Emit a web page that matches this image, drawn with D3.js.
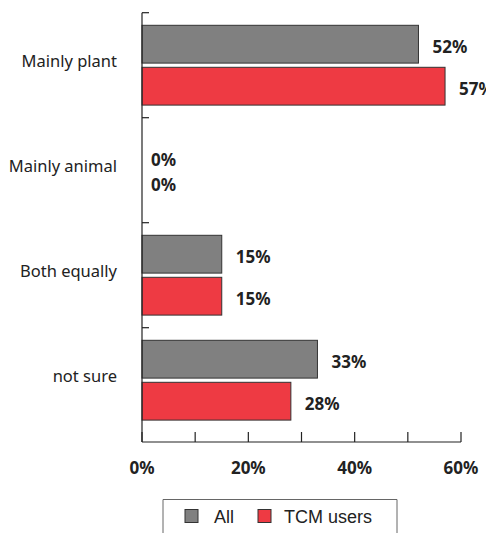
<!DOCTYPE html>
<html><head><meta charset="utf-8">
<script src="https://cdn.jsdelivr.net/npm/d3@7"></script>
<style>body{margin:0;background:#fff}svg{display:block}</style>
</head><body>
<svg id="c" width="486" height="533"></svg>
<script>
const categories = ["Mainly plant", "Mainly animal", "Both equally", "not sure"];
const seriesNames = ["All", "TCM users"];
const allValues = [52, 0, 15, 33];
const tcmValues = [57, 0, 15, 28];
const xTicks = [0, 20, 40, 60];
const colors = ["#808080", "#EE3A43"];

const svg = d3.select("#c");
const x = d3.scaleLinear().domain([0, 60]).range([142, 461]);
const y = d3.scaleBand().domain(categories).range([12.7, 432.7]).paddingInner(0).paddingOuter(0);
const y2 = d3.scaleBand().domain(seriesNames).range([0, y.bandwidth()]).paddingOuter(0.3).paddingInner(0.1);
const axisY = 442;
const font = "'Noto Sans', 'Open Sans', sans-serif";

const data = categories.map((c, i) => ({cat: c, vals: [allValues[i], tcmValues[i]]}));

// bars
const g = svg.append("g");
data.forEach(d => {
  d.vals.forEach((v, j) => {
    const yy = y(d.cat) + y2(seriesNames[j]);
    if (v > 0) {
      g.append("rect").attr("x", x(0)).attr("y", yy)
        .attr("width", x(v) - x(0)).attr("height", y2.bandwidth())
        .attr("fill", colors[j]).attr("stroke", "#333").attr("stroke-width", 1);
    }
    const ly = v > 0 ? yy + y2.bandwidth() / 2 : y(d.cat) + y.bandwidth() / 2 + (j ? 12 : -13);
    g.append("text").attr("x", x(v) + (v > 0 ? 14 : 9)).attr("y", ly)
      .attr("dy", "0.5em").attr("font-family", font).attr("font-weight", "bold")
      .attr("font-size", 17).attr("fill", "#222").text(v + "%");
  });
});

// y axis line
svg.append("line").attr("x1", x(0)).attr("x2", x(0)).attr("y1", 12.7).attr("y2", axisY)
  .attr("stroke", "#222").attr("stroke-width", 1.2);
// category ticks (at the top of each band)
categories.forEach(c => {
  svg.append("line").attr("x1", x(0)).attr("x2", x(0) + 7)
    .attr("y1", y(c)).attr("y2", y(c)).attr("stroke", "#222").attr("stroke-width", 1.2);
});
// category labels
svg.selectAll(".cl").data(categories).enter().append("text")
  .attr("x", 117).attr("y", c => y(c) + y.bandwidth() / 2 - 4)
  .attr("dy", "0.35em").attr("text-anchor", "end")
  .attr("font-family", font).attr("font-size", 16.5).attr("fill", "#222").text(c => c);

// x axis
svg.append("line").attr("x1", x(0)).attr("x2", x(60)).attr("y1", axisY).attr("y2", axisY)
  .attr("stroke", "#222").attr("stroke-width", 1.2);
d3.range(0, 61, 10).forEach(t => {
  svg.append("line").attr("x1", x(t)).attr("x2", x(t)).attr("y1", axisY).attr("y2", axisY - 10)
    .attr("stroke", "#222").attr("stroke-width", 1.2);
});
svg.selectAll(".xl").data(xTicks).enter().append("text")
  .attr("x", d => x(d)).attr("y", 468).attr("dy", "0.35em").attr("text-anchor", "middle")
  .attr("font-family", font).attr("font-weight", "bold").attr("font-size", 17)
  .attr("fill", "#222").text(d => d + "%");

// legend
const lg = svg.append("g");
lg.append("path").attr("d", "M163,540 V499.5 H397 V540").attr("fill", "none")
  .attr("stroke", "#666").attr("stroke-width", 1);
const legX = [185, 258];
seriesNames.forEach((s, j) => {
  lg.append("rect").attr("x", legX[j]).attr("y", 509.5).attr("width", 13).attr("height", 13)
    .attr("fill", colors[j]).attr("stroke", "#333");
  lg.append("text").attr("x", legX[j] + 29 + (j ? -3 : 0)).attr("y", 516.5).attr("dy", "0.35em")
    .attr("font-family", "'Liberation Sans', Arial, sans-serif").attr("font-size", 18)
    .attr("fill", "#222").text(s);
});
</script>
</body></html>
